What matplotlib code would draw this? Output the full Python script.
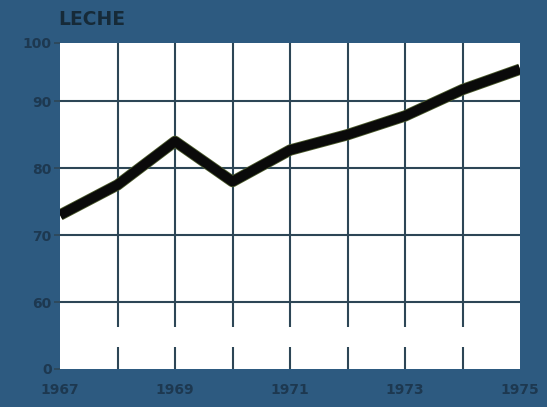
import numpy as np
import matplotlib.pyplot as plt

years = [1967, 1968, 1969, 1970, 1971, 1972, 1973, 1974, 1975]
leche = [73, 77.5, 84, 78, 82.7, 85, 87.8, 92, 95.5]

y_ticks = [0, 60, 70, 80, 90, 100]
x_ticks = [1967, 1969, 1971, 1973, 1975]

BG = '#2d5a80'
INK = '#1d3850'
GRID = '#2d4656'

# broken value axis: 0..60 squeezed into one step
y_vals = [0, 60, 70, 80, 90, 100]
y_pos = [0, 1, 2, 3, 4, 4.87]


def fwd(v):
    return np.interp(v, y_vals, y_pos)


def inv(p):
    return np.interp(p, y_pos, y_vals)


fig = plt.figure(figsize=(5.47, 4.07), dpi=100, facecolor=BG)
ax = fig.add_axes([0.1097, 0.0934, 0.841, 0.801])
ax.set_facecolor('white')
ax.set_yscale('function', functions=(fwd, inv))
ax.set_xlim(1967, 1975)
ax.set_ylim(0, 100)

for v in [60, 70, 80, 90]:
    ax.axhline(v, color=GRID, lw=1.5, zorder=1)
ax.vlines(years[1:-1], 0, 20, color=GRID, lw=1.5, zorder=1)
ax.vlines(years[1:-1], 38, 100, color=GRID, lw=1.5, zorder=1)

ax.plot(years, leche, color='#4b5a2c', lw=8.2, solid_capstyle='butt', zorder=3)
ax.plot(years, leche, color='#0a0a0a', lw=7, solid_capstyle='butt', zorder=4)

for s in ax.spines.values():
    s.set_visible(False)

ax.set_yticks(y_ticks)
ax.set_yticklabels([str(t) for t in y_ticks])
ax.set_xticks(x_ticks)
ax.set_xticklabels([str(t) for t in x_ticks])
ax.tick_params(axis='y', length=4, width=1.2, color=GRID, pad=2,
               labelsize=10, labelcolor=INK)
ax.tick_params(axis='x', length=0, pad=10, labelsize=10, labelcolor=INK)
for lab in ax.get_xticklabels() + ax.get_yticklabels():
    lab.set_fontweight('bold')

fig.text(0.107, 0.952, 'LECHE', color='#162a38', fontsize=13.5,
         fontweight='bold', ha='left', va='center')

fig.savefig('out.png', dpi=100, facecolor=BG)
